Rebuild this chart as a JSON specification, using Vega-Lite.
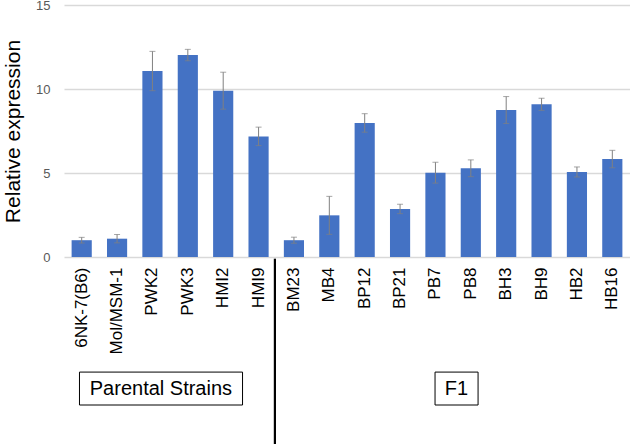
{
  "$schema": "https://vega.github.io/schema/vega-lite/v6.json",
  "autosize": {"type": "none"},
  "width": 566,
  "height": 252,
  "padding": {"left": 64, "top": 5, "right": 0, "bottom": 187},
  "background": "white",
  "config": {
    "font": "Liberation Sans",
    "view": {"stroke": null}
  },
  "data": {
    "values": [
      {"strain": "6NK-7(B6)", "value": 1.0, "err": 0.17},
      {"strain": "Mol/MSM-1", "value": 1.09, "err": 0.25},
      {"strain": "PWK2", "value": 11.07, "err": 1.17},
      {"strain": "PWK3", "value": 12.02, "err": 0.34},
      {"strain": "HMI2", "value": 9.9, "err": 1.1},
      {"strain": "HMI9", "value": 7.18, "err": 0.55},
      {"strain": "BM23", "value": 1.0, "err": 0.18},
      {"strain": "MB4", "value": 2.48, "err": 1.13},
      {"strain": "BP12", "value": 7.98, "err": 0.55},
      {"strain": "BP21", "value": 2.86, "err": 0.28},
      {"strain": "PB7", "value": 5.02, "err": 0.62},
      {"strain": "PB8", "value": 5.28, "err": 0.5},
      {"strain": "BH3", "value": 8.75, "err": 0.8},
      {"strain": "BH9", "value": 9.09, "err": 0.36},
      {"strain": "HB2", "value": 5.06, "err": 0.3},
      {"strain": "HB16", "value": 5.83, "err": 0.52}
    ]
  },
  "layer": [
    {
      "mark": {"type": "bar", "color": "#4472C4"},
      "encoding": {
        "x": {
          "field": "strain", "type": "nominal", "sort": null,
          "scale": {"paddingInner": 0.43, "paddingOuter": 0.215},
          "axis": {"title": null, "labelAngle": -90, "labelFontSize": 17, "labelColor": "#000000", "labelPadding": 10, "ticks": false, "domain": false, "grid": false}
        },
        "y": {
          "field": "value", "type": "quantitative",
          "scale": {"domain": [0, 15], "nice": false},
          "axis": {"title": "Relative expression", "titleFontSize": 21, "titleFontWeight": "normal", "titleColor": "#000000", "titlePadding": 12, "values": [0, 5, 10, 15], "labelFontSize": 13, "labelColor": "#595959", "labelPadding": 14, "ticks": false, "domain": false, "gridColor": "#D9D9D9", "gridWidth": 1.3}
        }
      }
    },
    {
      "mark": {"type": "errorbar", "ticks": {"size": 6, "color": "#808080"}, "rule": {"color": "#808080"}, "color": "#808080"},
      "encoding": {
        "x": {"field": "strain", "type": "nominal", "sort": null},
        "y": {"field": "value", "type": "quantitative", "title": "Relative expression"},
        "yError": {"field": "err"}
      }
    },
    {
      "data": {"values": [{"divider": "Parental | F1"}]},
      "mark": {"type": "rule", "color": "#000000", "strokeWidth": 2.2},
      "encoding": {
        "x": {"datum": "HMI9", "bandPosition": 1.31},
        "y": {"datum": -0.1},
        "y2": {"datum": -12}
      }
    },
    {
      "data": {"values": [{"group": "Parental Strains"}]},
      "mark": {"type": "rect", "fill": "#FFFFFF", "stroke": "#000000", "strokeWidth": 1},
      "encoding": {
        "x": {"datum": "6NK-7(B6)", "bandPosition": 0.39},
        "x2": {"datum": "HMI2", "bandPosition": 1.46},
        "y": {"datum": -6.85},
        "y2": {"datum": -8.81}
      }
    },
    {
      "data": {"values": [{"group": "F1"}]},
      "mark": {"type": "rect", "fill": "#FFFFFF", "stroke": "#000000", "strokeWidth": 1},
      "encoding": {
        "x": {"datum": "PB7", "bandPosition": 0.48},
        "x2": {"datum": "PB8", "bandPosition": 0.86},
        "y": {"datum": -6.85},
        "y2": {"datum": -8.81}
      }
    },
    {
      "data": {"values": [{"group": "Parental Strains"}]},
      "mark": {"type": "text", "fontSize": 20, "fill": "#000000", "align": "center", "baseline": "middle"},
      "encoding": {
        "text": {"field": "group"},
        "x": {"datum": "PWK2", "bandPosition": 0.92},
        "y": {"datum": -7.83}
      }
    },
    {
      "data": {"values": [{"group": "F1"}]},
      "mark": {"type": "text", "fontSize": 20, "fill": "#000000", "align": "center", "baseline": "middle"},
      "encoding": {
        "text": {"field": "group"},
        "x": {"datum": "PB7", "bandPosition": 1.54},
        "y": {"datum": -7.83}
      }
    }
  ]
}
